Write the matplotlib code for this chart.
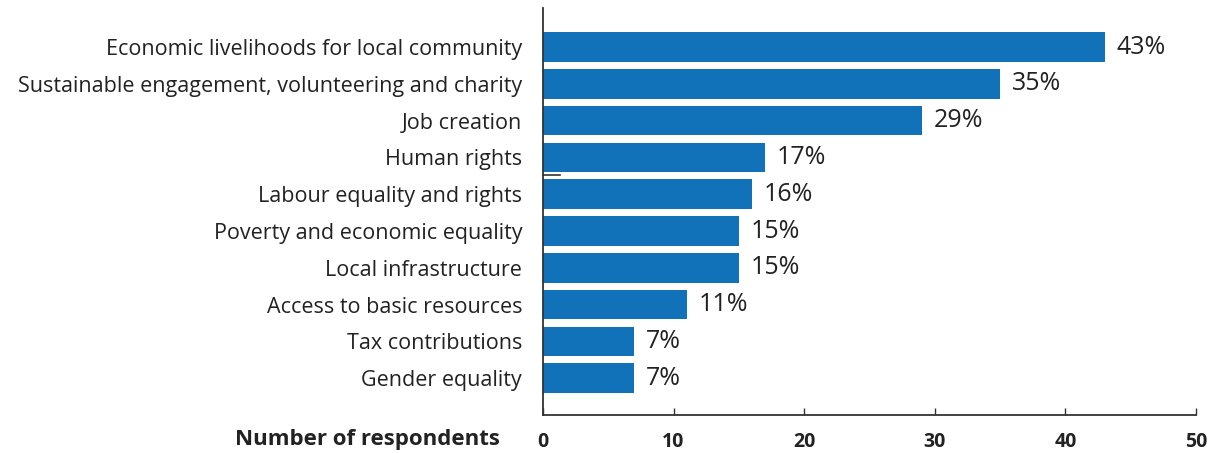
import matplotlib.pyplot as plt

categories = ["Economic livelihoods for local community",
              "Sustainable engagement, volunteering and charity",
              "Job creation",
              "Human rights",
              "Labour equality and rights",
              "Poverty and economic equality",
              "Local infrastructure",
              "Access to basic resources",
              "Tax contributions",
              "Gender equality"]
values = [43, 35, 29, 17, 16, 15, 15, 11, 7, 7]
xticks = [0, 10, 20, 30, 40, 50]

plt.rcParams['font.family'] = ['Open Sans', 'DejaVu Sans']

fig = plt.figure(figsize=(12.27, 4.53), dpi=100)
ax = fig.add_axes([0.4425, 0.0839, 0.5322, 0.8984])

ypos = list(range(len(categories)))
ax.barh(ypos, values, height=0.8, color='#1172ba')
for y, v in zip(ypos, values):
    ax.text(v + 0.9, y, f"{v}%", va='center', ha='left', fontsize=18, color='#222222')

ax.set_xlim(0, 50)
ax.set_ylim(10.0, -1.06)
ax.set_yticks(ypos)
ax.set_yticklabels(categories, fontsize=15.5, color='#222222')
ax.tick_params(axis='y', length=0, pad=15)
ax.set_xticks(xticks)
ax.set_xticklabels([str(t) for t in xticks], fontsize=14, fontweight='bold', color='#222222')
ax.tick_params(axis='x', direction='in', length=5, width=1, color='#333333', pad=12)

for s in ['top', 'right']:
    ax.spines[s].set_visible(False)
for s in ['left', 'bottom']:
    ax.spines[s].set_color('#333333')
    ax.spines[s].set_linewidth(1.3)

# small stray tick on the left spine
ax.plot([0, 1.3], [3.48, 3.48], color='#333333', lw=1.2, clip_on=False)

fig.text(0.407, 0.029, "Number of respondents", ha='right', va='center',
         fontsize=16, fontweight='bold', color='#222222')

fig.savefig("out.png", dpi=100)
